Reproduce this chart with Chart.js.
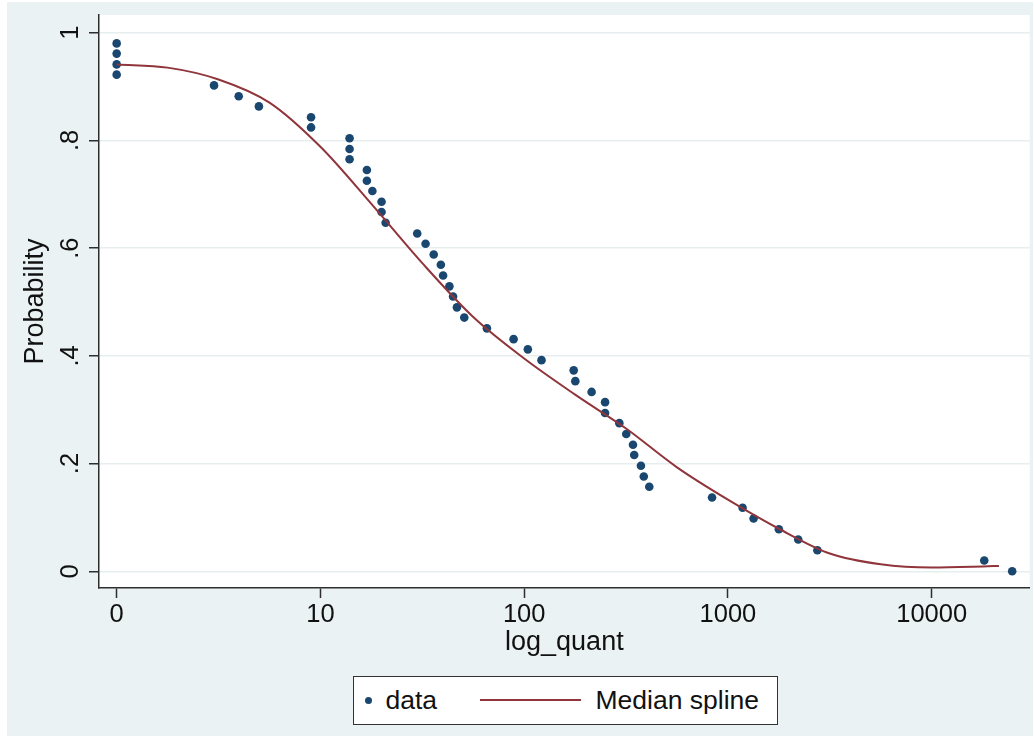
<!DOCTYPE html>
<html>
<head>
<meta charset="utf-8">
<script src="https://cdn.jsdelivr.net/npm/chart.js@4"></script>
<style>
  body { margin: 0; background: #fff; }
  #wrap { position: relative; width: 1034px; height: 740px; }
  #legenda { position: absolute; left: 353px; top: 676px; width: 425px; height: 49px; box-sizing: border-box;
             border: 1.5px solid #333; background: #fff; font-family: "Liberation Sans", Arial, sans-serif;
             font-size: 26.5px; color: #111; }
  #legenda span { position: absolute; line-height: 30px; white-space: nowrap; }
</style>
</head>
<body>
<div id="wrap">
  <canvas id="grafico" width="1034" height="740"></canvas>
  <div id="legenda">
    <span style="left:11px;top:19.5px;width:7px;height:7px;border-radius:50%;background:#1a476f"></span>
    <span style="left:31.5px;top:7.6px">data</span>
    <span style="left:125.5px;top:21.5px;width:101px;height:2px;background:#90353b"></span>
    <span style="left:241.5px;top:7.6px">Median spline</span>
  </div>
</div>
<script>
// pontos (x em log10 da quantidade, y = probabilidade)
var dadosX = [0, 0, 0, 0, 0.478, 0.599, 0.698, 0.954, 0.954, 1.143, 1.143, 1.143, 1.228, 1.228, 1.255, 1.300, 1.300,
  1.320, 1.475, 1.516, 1.556, 1.591, 1.602, 1.633, 1.651, 1.670, 1.706, 1.817, 1.948, 2.018, 2.085, 2.243, 2.251,
  2.331, 2.397, 2.397, 2.467, 2.501, 2.534, 2.540, 2.573, 2.587, 2.614, 2.922, 3.072, 3.126, 3.250, 3.345, 3.439,
  4.258, 4.395];
var dadosY = [0.980, 0.961, 0.941, 0.922, 0.902, 0.882, 0.863, 0.843, 0.824, 0.804, 0.784, 0.765, 0.745, 0.725, 0.706,
  0.686, 0.667, 0.647, 0.627, 0.608, 0.588, 0.569, 0.549, 0.529, 0.510, 0.490, 0.471, 0.451, 0.431, 0.412, 0.392,
  0.373, 0.353, 0.333, 0.314, 0.294, 0.275, 0.255, 0.235, 0.216, 0.196, 0.176, 0.157, 0.137, 0.118, 0.098, 0.078,
  0.059, 0.039, 0.020, 0];

// curva "Median spline"
var splineX = [0, 0.25, 0.5, 0.75, 1.0, 1.25, 1.5, 1.75, 2.0, 2.25, 2.5, 2.75, 3.0, 3.25, 3.5, 3.75, 4.0, 4.25, 4.33];
var splineY = [0.941, 0.935, 0.913, 0.870, 0.788, 0.682, 0.572, 0.472, 0.395, 0.328, 0.265, 0.193, 0.133, 0.079,
  0.033, 0.013, 0.007, 0.009, 0.010];

// eixos
var xTicks = [0, 1, 2, 3, 4];
var xLabels = ['0', '10', '100', '1000', '10000'];
var yTicks = [0, 0.2, 0.4, 0.6, 0.8, 1];
var yLabels = ['0', '.2', '.4', '.6', '.8', '1'];

var fonte = '"Liberation Sans", Arial, sans-serif';
var fundo = '#eaf2f3';
var corEixo = '#2e2e2e';

// fundo azulado estilo Stata + area branca do grafico
var pintaFundo = {
  id: 'pintaFundo',
  beforeDraw: function (chart) {
    var ctx = chart.ctx;
    var a = chart.chartArea;
    ctx.save();
    ctx.fillStyle = '#fff';
    ctx.fillRect(0, 0, chart.width, chart.height);
    ctx.fillStyle = fundo;
    ctx.fillRect(7, 2, 1026, 734);
    ctx.fillStyle = '#fff';
    ctx.fillRect(a.left, a.top, a.right - a.left, a.bottom - a.top);
    ctx.restore();
  }
};

// rotulos do eixo y girados (como no Stata)
var rotulosY = {
  id: 'rotulosY',
  afterDraw: function (chart) {
    var ctx = chart.ctx;
    var escala = chart.scales.y;
    ctx.save();
    ctx.font = '25.5px ' + fonte;
    ctx.fillStyle = '#111';
    ctx.textAlign = 'center';
    ctx.textBaseline = 'alphabetic';
    for (var i = 0; i < yTicks.length; i++) {
      ctx.save();
      ctx.translate(78, escala.getPixelForValue(yTicks[i]));
      ctx.rotate(-Math.PI / 2);
      ctx.fillText(yLabels[i], 0, 0);
      ctx.restore();
    }
    ctx.restore();
  }
};

var pontos = dadosX.map(function (x, i) { return { x: x, y: dadosY[i] }; });
var curva = splineX.map(function (x, i) { return { x: x, y: splineY[i] }; });

new Chart(document.getElementById('grafico'), {
  type: 'scatter',
  data: {
    datasets: [{
      label: 'data',
      data: pontos,
      backgroundColor: '#1a476f',
      borderWidth: 0,
      pointRadius: 4.3,
      pointHoverRadius: 4.3,
      order: 1
    }, {
      type: 'line',
      label: 'Median spline',
      data: curva,
      showLine: true,
      borderColor: '#90353b',
      borderWidth: 2,
      pointRadius: 0,
      fill: false,
      cubicInterpolationMode: 'monotone',
      order: 0
    }]
  },
  options: {
    responsive: false,
    animation: false,
    layout: { padding: { left: 0, top: 15, right: 2, bottom: 0 } },
    plugins: {
      legend: { display: false },
      tooltip: { enabled: false }
    },
    scales: {
      x: {
        type: 'linear',
        min: -0.0867,
        max: 4.481,
        afterBuildTicks: function (s) { s.ticks = xTicks.map(function (v) { return { value: v }; }); },
        afterFit: function (s) { s.height = 152; },
        ticks: {
          padding: 2,
          maxRotation: 0,
          color: '#111',
          font: { size: 25.5, family: fonte },
          callback: function (v) { return xLabels[xTicks.indexOf(v)]; }
        },
        grid: { drawOnChartArea: false, drawTicks: true, tickLength: 10, tickColor: corEixo, tickWidth: 1.5 },
        border: { display: true, color: corEixo, width: 1.5 },
        title: { display: true, text: 'log_quant', color: '#111', font: { size: 27, family: fonte }, padding: { top: 0, bottom: 81.5 } }
      },
      y: {
        type: 'linear',
        min: -0.031,
        max: 1.0327,
        afterBuildTicks: function (s) { s.ticks = yTicks.map(function (v) { return { value: v }; }); },
        afterFit: function (s) { s.width = 99; },
        ticks: { display: false },
        grid: { color: '#e6eef0', lineWidth: 1.5, drawTicks: true, tickLength: 10, tickColor: corEixo, tickWidth: 1.5 },
        border: { display: true, color: corEixo, width: 1.5 },
        title: { display: true, text: 'Probability', color: '#111', font: { size: 27, family: fonte }, padding: { top: 19, bottom: 0 } }
      }
    }
  },
  plugins: [pintaFundo, rotulosY]
});
</script>
</body>
</html>
